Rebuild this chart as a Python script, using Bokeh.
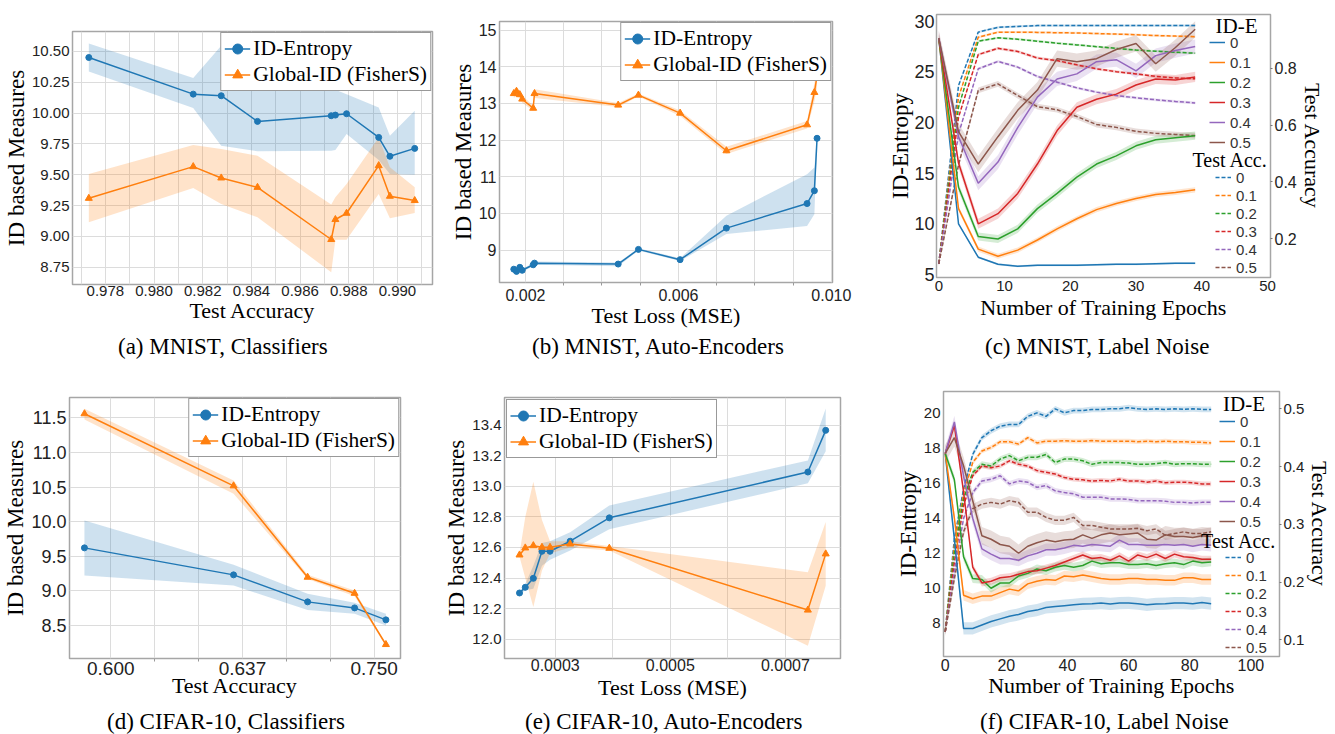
from bokeh.plotting import figure
from bokeh.models import (Range1d, LinearAxis, FixedTicker, SingleIntervalTicker, Legend,
                          LegendItem, Label, NumeralTickFormatter, Div)
from bokeh.layouts import column, row
from bokeh.embed import file_html
from bokeh.resources import INLINE

# ---------------- data ----------------
# (a) MNIST, Classifiers
a_acc = [0.97732, 0.98161, 0.98276, 0.98425, 0.98728, 0.98745, 0.98791, 0.98923, 0.98969, 0.99071]
a_ide = [10.451, 10.154, 10.141, 9.933, 9.979, 9.984, 9.995, 9.803, 9.650, 9.714]
a_ide_lo = [10.338, 10.041, 9.736, 9.69, 9.695, 9.70, 9.83, 9.62, 9.506, 9.50]
a_ide_hi = [10.565, 10.284, 10.546, 10.187, 10.20, 10.19, 10.154, 10.046, 9.817, 10.02]
a_gid = [9.309, 9.566, 9.474, 9.398, 8.975, 9.137, 9.188, 9.574, 9.326, 9.291]
a_gid_lo = [9.115, 9.393, 9.263, 9.155, 8.71, 8.972, 8.972, 9.344, 9.147, 9.19]
a_gid_hi = [9.506, 9.741, 9.709, 9.655, 9.258, 9.317, 9.425, 9.803, 9.56, 9.398]

# (b) MNIST, Auto-Encoders
b_mse = [0.001694, 0.001765, 0.001851, 0.001914, 0.002201, 0.002235, 0.004424, 0.004954,
         0.006044, 0.007255, 0.009365, 0.009556, 0.009626]
b_ide = [8.48, 8.42, 8.53, 8.45, 8.60, 8.645, 8.62, 9.02, 8.74, 9.60, 10.27, 10.62, 12.05]
b_ide_lo = [8.44, 8.38, 8.49, 8.41, 8.56, 8.60, 8.56, 8.99, 8.70, 9.44, 9.66, 9.98, 11.95]
b_ide_hi = [8.52, 8.46, 8.57, 8.49, 8.64, 8.69, 8.66, 9.05, 8.78, 9.94, 11.07, 11.25, 12.15]
b_gid = [13.27, 13.33, 13.24, 13.12, 12.87, 13.27, 12.955, 13.227, 12.736, 11.71, 12.418, 13.3, 13.75]
b_gid_lo = [13.15, 13.21, 13.14, 13.02, 12.80, 13.15, 12.90, 13.19, 12.66, 11.62, 12.32, 13.05, 13.45]
b_gid_hi = [13.39, 13.45, 13.34, 13.22, 12.94, 13.39, 13.01, 13.27, 12.81, 11.82, 12.52, 13.55, 14.05]

# (c) MNIST, Label Noise
c_epochs = [0, 3, 6, 9, 12, 15, 18, 21, 24, 27, 30, 33, 36, 39]
c_ide_n0 = [28.3, 10.0, 6.7, 6.0, 5.8, 5.9, 5.9, 5.9, 5.95, 6.0, 6.0, 6.05, 6.1, 6.1]
c_ide_n1 = [28.3, 11.5, 7.5, 6.8, 7.4, 8.4, 9.5, 10.5, 11.4, 12.0, 12.5, 12.9, 13.1, 13.35]
c_ide_n2 = [28.3, 13.6, 8.75, 8.5, 9.5, 11.5, 13.0, 14.6, 15.9, 16.7, 17.7, 18.3, 18.5, 18.7]
c_ide_n3 = [28.3, 16.0, 10.0, 11.0, 13.0, 15.9, 19.2, 21.5, 22.3, 22.8, 23.7, 24.3, 24.2, 24.5]
c_ide_n4 = [28.3, 18.6, 14.0, 16.1, 19.5, 22.5, 24.3, 24.8, 26.0, 26.2, 25.1, 26.6, 27.1, 27.5]
c_ide_n5 = [28.3, 19.1, 15.9, 18.6, 21.2, 23.2, 26.3, 26.0, 26.3, 27.2, 27.8, 25.8, 27.4, 29.2]
c_ide_band = [0.1, 0.25, 0.4, 0.5, 0.7, 0.8]
c_acc_n0 = [0.112, 0.739, 0.927, 0.944, 0.947, 0.950, 0.950, 0.950, 0.950, 0.950, 0.950, 0.950, 0.950, 0.950]
c_acc_n1 = [0.112, 0.698, 0.909, 0.927, 0.927, 0.926, 0.925, 0.924, 0.922, 0.920, 0.918, 0.915, 0.913, 0.911]
c_acc_n2 = [0.112, 0.663, 0.895, 0.907, 0.902, 0.895, 0.888, 0.882, 0.876, 0.870, 0.864, 0.860, 0.856, 0.853]
c_acc_n3 = [0.112, 0.628, 0.848, 0.870, 0.859, 0.836, 0.827, 0.812, 0.798, 0.788, 0.780, 0.771, 0.766, 0.763]
c_acc_n4 = [0.112, 0.569, 0.798, 0.824, 0.804, 0.771, 0.751, 0.731, 0.716, 0.704, 0.696, 0.689, 0.683, 0.678]
c_acc_n5 = [0.112, 0.460, 0.722, 0.745, 0.704, 0.665, 0.654, 0.630, 0.602, 0.592, 0.578, 0.571, 0.567, 0.563]
c_acc_band = [0.004, 0.004, 0.004, 0.005, 0.005, 0.01]

# (d) CIFAR-10, Classifiers
d_acc = [0.5926, 0.6345, 0.6553, 0.6685, 0.6773]
d_ide = [9.621, 9.231, 8.841, 8.754, 8.581]
d_ide_lo = [9.222, 9.077, 8.725, 8.668, 8.50]
d_ide_hi = [10.016, 9.376, 8.957, 8.827, 8.668]
d_gid = [11.558, 10.517, 9.197, 8.965, 8.225]
d_gid_lo = [11.476, 10.402, 9.173, 8.923, 8.20]
d_gid_hi = [11.63, 10.594, 9.231, 9.005, 8.234]
d_tick_labels = ["0.600", "0.637", "0.750"]

# (e) CIFAR-10, Auto-Encoders
e_mse = [0.000238, 0.000248, 0.000262, 0.000277, 0.000291, 0.000326, 0.000394, 0.000739, 0.000770]
e_ide = [12.302, 12.339, 12.398, 12.575, 12.575, 12.641, 12.794, 13.094, 13.367]
e_ide_lo = [12.29, 12.32, 12.33, 12.48, 12.52, 12.58, 12.72, 13.02, 13.23]
e_ide_hi = [12.31, 12.36, 12.48, 12.63, 12.64, 12.70, 12.875, 13.17, 13.51]
e_gid = [12.551, 12.597, 12.612, 12.601, 12.601, 12.623, 12.595, 12.190, 12.558]
e_gid_lo = [12.54, 12.40, 12.21, 12.45, 12.56, 12.60, 12.58, 11.956, 12.35]
e_gid_hi = [12.56, 12.80, 13.03, 12.78, 12.64, 12.64, 12.61, 12.437, 12.766]

# (f) CIFAR-10, Label Noise
f_epochs = [0, 3, 6, 9, 12, 15, 18, 21, 24, 27, 30, 33, 36, 39, 42, 45, 48, 51, 54, 57,
            60, 63, 66, 69, 72, 75, 78, 81, 84, 87]
f_ide_n0 = [17.7, 12.8, 7.7, 7.7, 7.9, 8.1, 8.25, 8.4, 8.5, 8.67, 8.75, 8.9, 8.95, 9.0, 9.05,
            9.1, 9.12, 9.15, 9.1, 9.15, 9.16, 9.12, 9.05, 9.1, 9.12, 9.15, 9.15, 9.12, 9.18, 9.12]
f_ide_n1 = [17.7, 14.0, 9.6, 9.4, 9.55, 9.55, 9.75, 9.95, 9.85, 10.25, 10.4, 10.5, 10.45, 10.7, 10.65,
            10.75, 10.65, 10.55, 10.5, 10.5, 10.55, 10.55, 10.5, 10.5, 10.45, 10.45, 10.6, 10.6, 10.5, 10.5]
f_ide_n2 = [17.7, 16.2, 11.8, 10.55, 10.5, 10.0, 10.3, 10.3, 10.7, 10.85, 11.1, 11.0, 11.2, 11.3, 11.2,
            11.3, 11.55, 11.4, 11.45, 11.45, 11.35, 11.35, 11.4, 11.3, 11.4, 11.45, 11.35, 11.55, 11.45, 11.5]
f_ide_n3 = [17.7, 19.3, 15.5, 11.2, 10.3, 10.4, 10.6, 10.65, 10.8, 10.95, 11.0, 11.15, 11.3, 11.5, 11.7,
            11.9, 11.7, 11.75, 11.6, 11.85, 11.55, 11.9, 11.75, 11.95, 11.7, 11.95, 11.8, 11.75, 11.65, 11.65]
f_ide_n4 = [17.7, 19.5, 16.4, 14.0, 12.25, 11.95, 11.7, 11.7, 11.6, 11.85, 12.0, 12.2, 12.2, 12.3, 12.45,
            12.4, 12.5, 12.45, 12.4, 12.75, 12.5, 12.5, 12.45, 12.45, 12.5, 12.45, 12.5, 12.4, 12.5, 12.45]
f_ide_n5 = [17.7, 18.6, 17.0, 15.0, 13.0, 12.8, 12.5, 12.4, 12.0, 12.4, 12.6, 12.75, 12.65, 12.75, 12.8,
            13.05, 12.85, 13.05, 13.15, 13.05, 13.1, 13.15, 12.8, 12.75, 13.05, 12.95, 12.95, 12.9, 13.0, 12.95]
f_ide_band = [0.35, 0.3, 0.25, 0.2, 0.35, 0.5]
f_acc_n0 = [0.114, 0.275, 0.361, 0.421, 0.450, 0.462, 0.470, 0.473, 0.473, 0.487, 0.493, 0.487, 0.500, 0.493, 0.497,
            0.497, 0.499, 0.499, 0.500, 0.500, 0.502, 0.500, 0.499, 0.500, 0.499, 0.500, 0.499, 0.500, 0.499, 0.499]
f_acc_n1 = [0.114, 0.264, 0.353, 0.407, 0.427, 0.433, 0.443, 0.443, 0.439, 0.450, 0.441, 0.444, 0.444, 0.445, 0.444,
            0.444, 0.445, 0.444, 0.444, 0.444, 0.444, 0.443, 0.444, 0.443, 0.444, 0.443, 0.443, 0.442, 0.442, 0.441]
f_acc_n2 = [0.114, 0.252, 0.344, 0.390, 0.404, 0.401, 0.413, 0.419, 0.410, 0.416, 0.416, 0.421, 0.407, 0.413, 0.413,
            0.410, 0.404, 0.407, 0.407, 0.407, 0.406, 0.404, 0.404, 0.405, 0.407, 0.404, 0.405, 0.405, 0.404, 0.404]
f_acc_n3 = [0.114, 0.235, 0.332, 0.384, 0.401, 0.398, 0.401, 0.410, 0.404, 0.401, 0.393, 0.390, 0.387, 0.381, 0.378,
            0.377, 0.375, 0.376, 0.375, 0.378, 0.375, 0.375, 0.373, 0.375, 0.372, 0.373, 0.373, 0.372, 0.370, 0.370]
f_acc_n4 = [0.114, 0.218, 0.310, 0.355, 0.375, 0.378, 0.384, 0.370, 0.375, 0.373, 0.364, 0.367, 0.358, 0.355, 0.353,
            0.347, 0.347, 0.347, 0.344, 0.344, 0.343, 0.341, 0.341, 0.341, 0.340, 0.338, 0.338, 0.337, 0.338, 0.338]
f_acc_n5 = [0.114, 0.206, 0.287, 0.327, 0.335, 0.338, 0.335, 0.341, 0.338, 0.321, 0.321, 0.312, 0.307, 0.307, 0.312,
            0.298, 0.298, 0.295, 0.292, 0.292, 0.292, 0.293, 0.289, 0.292, 0.281, 0.284, 0.287, 0.284, 0.284, 0.287]
f_acc_band = [0.005, 0.004, 0.005, 0.004, 0.005, 0.008]

noise_labels = ["0", "0.1", "0.2", "0.3", "0.4", "0.5"]
series_labels = ["ID-Entropy", "Global-ID (FisherS)"]
captions = ["(a) MNIST, Classifiers", "(b) MNIST, Auto-Encoders", "(c) MNIST, Label Noise",
            "(d) CIFAR-10, Classifiers", "(e) CIFAR-10, Auto-Encoders", "(f) CIFAR-10, Label Noise"]

# ---------------- style ----------------
SERIF = "'Liberation Serif'"
SANS = "'Liberation Sans'"
BLUE, ORANGE = "#1f77b4", "#ff7f0e"
TAB = ["#1f77b4", "#ff7f0e", "#2ca02c", "#d62728", "#9467bd", "#8c564b"]
GRID = "#dcdcdc"


def style_axis(ax, tick_size, standoff=3, label_size="22px", label_standoff=0):
    ax.axis_line_color = None
    ax.major_tick_line_color = None
    ax.minor_tick_line_color = None
    ax.major_tick_out = 0
    ax.minor_tick_out = 0
    ax.major_label_text_font = SANS
    ax.major_label_text_font_size = tick_size
    ax.major_label_text_color = "#222222"
    ax.major_label_standoff = standoff
    ax.axis_label_text_font = SERIF
    ax.axis_label_text_font_style = "normal"
    ax.axis_label_text_font_size = label_size
    ax.axis_label_text_color = "black"
    ax.axis_label_standoff = label_standoff


def make_fig(w, h, borders, xr, yr):
    left, right, top, bottom = borders
    p = figure(width=w, height=h, x_range=Range1d(*xr), y_range=Range1d(*yr),
               output_backend="svg", toolbar_location=None, frame_align=False,
               min_border_left=left, min_border_right=right,
               min_border_top=top, min_border_bottom=bottom)
    p.outline_line_color = "#a6a6a6"
    p.outline_line_width = 1.5
    p.background_fill_color = "white"
    p.border_fill_color = "white"
    p.grid.grid_line_color = GRID
    p.grid.grid_line_width = 1
    return p


def caption_div(text, width, height, pad_left, pad_top):
    html = ('<div style="font-family:\'Liberation Serif\'; font-size:23px; line-height:24px; '
            'color:black; white-space:nowrap; padding-left:%dpx; padding-top:%dpx;">%s</div>'
            % (pad_left, pad_top, text))
    return Div(text=html, width=width, height=height, margin=0)


def compare(p, x, ide, ide_lo, ide_hi, gid, gid_lo, gid_hi, loc, margin):
    p.varea(x=x, y1=ide_lo, y2=ide_hi, fill_color=BLUE, fill_alpha=0.22)
    p.varea(x=x, y1=gid_lo, y2=gid_hi, fill_color=ORANGE, fill_alpha=0.22)
    l1 = p.line(x, ide, line_color=BLUE, line_width=1.5)
    s1 = p.scatter(x, ide, marker="circle", size=6, color=BLUE)
    l2 = p.line(x, gid, line_color=ORANGE, line_width=1.5)
    s2 = p.scatter(x, gid, marker="triangle", size=7, color=ORANGE)
    leg = Legend(items=[LegendItem(label=series_labels[0], renderers=[l1, s1]),
                        LegendItem(label=series_labels[1], renderers=[l2, s2])],
                 location=loc, margin=margin, padding=3, spacing=1,
                 glyph_width=26, glyph_height=25, label_height=25, label_standoff=3,
                 label_text_font=SERIF, label_text_font_size="21.5px", label_text_color="black",
                 border_line_color="#333333", border_line_width=1.5,
                 background_fill_color="white", background_fill_alpha=1.0)
    p.add_layout(leg)


# ---------------- (a) ----------------
pa = make_fig(440, 335, (67, 8, 31, 51), (0.97665, 0.99144), (8.61, 10.662))
pa.xaxis.ticker = FixedTicker(ticks=[0.978, 0.980, 0.982, 0.984, 0.986, 0.988, 0.990],
                              minor_ticks=[0.977, 0.979, 0.981, 0.983, 0.985, 0.987, 0.989, 0.991])
pa.xaxis.formatter = NumeralTickFormatter(format="0.000")
pa.yaxis.ticker = SingleIntervalTicker(interval=0.25)
pa.yaxis.formatter = NumeralTickFormatter(format="0.00")
pa.xgrid.minor_grid_line_color = GRID
for ax in pa.xaxis:
    style_axis(ax, "15px", 1, "22px", -1)
for ax in pa.yaxis:
    style_axis(ax, "15px", 3, "23px")
pa.xaxis.axis_label = "Test Accuracy"
pa.yaxis.axis_label = "ID based Measures"
compare(pa, a_acc, a_ide, a_ide_lo, a_ide_hi, a_gid, a_gid_lo, a_gid_hi, "top_right", 1)

# ---------------- (b) ----------------
pb = make_fig(445, 335, (59, 53, 21, 53), (0.00132, 0.01003), (8.117, 15.235))
pb.xaxis.ticker = FixedTicker(ticks=[0.002, 0.006, 0.010],
                              minor_ticks=[0.003, 0.004, 0.005, 0.007, 0.008, 0.009])
pb.xaxis.formatter = NumeralTickFormatter(format="0.000")
pb.yaxis.ticker = SingleIntervalTicker(interval=1)
pb.xgrid.minor_grid_line_color = GRID
for ax in pb.xaxis:
    style_axis(ax, "16px", 3, "22px", -1)
for ax in pb.yaxis:
    style_axis(ax, "16px", 3, "23px")
pb.xaxis.minor_tick_line_color = "#999999"
pb.xaxis.minor_tick_out = 3
pb.xaxis.minor_tick_in = 0
pb.xaxis.axis_label = "Test Loss (MSE)"
pb.yaxis.axis_label = "ID based Measures"
compare(pb, b_mse, b_ide, b_ide_lo, b_ide_hi, b_gid, b_gid_lo, b_gid_hi, "top_right", 1)


# ---------------- noise panels ----------------
def noise(p, epochs, ide, ide_band, acc, acc_band, acc_range, acc_ticker,
          solid_loc, dash_loc, solid_h, dash_h, titles):
    p.extra_y_ranges = {"acc": Range1d(*acc_range)}
    p.grid.grid_line_color = None
    solid, dashed = [], []
    for k in range(6):
        lo = [v - ide_band[k] for v in ide[k]]
        hi = [v + ide_band[k] for v in ide[k]]
        p.varea(x=epochs, y1=lo, y2=hi, fill_color=TAB[k], fill_alpha=0.2)
        alo = [v - acc_band[k] for v in acc[k]]
        ahi = [v + acc_band[k] for v in acc[k]]
        p.varea(x=epochs, y1=alo, y2=ahi, fill_color=TAB[k], fill_alpha=0.2, y_range_name="acc")
    for k in range(6):
        dashed.append(p.line(epochs, acc[k], line_color=TAB[k], line_width=1.5,
                             line_dash="4 2", y_range_name="acc"))
    for k in range(6):
        solid.append(p.line(epochs, ide[k], line_color=TAB[k], line_width=1.5))
    rax = LinearAxis(y_range_name="acc", axis_label="Test Accuracy", ticker=acc_ticker,
                     formatter=NumeralTickFormatter(format="0.0"))
    p.add_layout(rax, "right")
    common = dict(padding=0, spacing=0, margin=0, glyph_width=16, label_standoff=5,
                  background_fill_alpha=0, border_line_color=None,
                  label_text_font=SANS, label_text_font_size="15px", label_text_color="#333333")
    leg1 = Legend(items=[LegendItem(label=noise_labels[k], renderers=[solid[k]]) for k in range(6)],
                  location=solid_loc, glyph_height=solid_h, label_height=solid_h, **common)
    leg2 = Legend(items=[LegendItem(label=noise_labels[k], renderers=[dashed[k]]) for k in range(6)],
                  location=dash_loc, glyph_height=dash_h, label_height=dash_h, **common)
    p.add_layout(leg1)
    p.add_layout(leg2)
    for (tx, ty, txt, fs) in titles:
        p.add_layout(Label(x=tx, y=ty, text=txt, text_font=SERIF, text_font_size=fs,
                           text_baseline="middle", text_align="left", text_color="black"))
    return rax


# ---------------- (c) ----------------
pc = make_fig(450, 335, (51, 65, 14, 58), (-0.35, 50.46), (4.70, 30.66))
pc.xaxis.ticker = SingleIntervalTicker(interval=10)
pc.yaxis.ticker = SingleIntervalTicker(interval=5)
rc = noise(pc, c_epochs, [c_ide_n0, c_ide_n1, c_ide_n2, c_ide_n3, c_ide_n4, c_ide_n5], c_ide_band,
           [c_acc_n0, c_acc_n1, c_acc_n2, c_acc_n3, c_acc_n4, c_acc_n5], c_acc_band,
           (0.064, 0.989), FixedTicker(ticks=[0.2, 0.4, 0.6, 0.8]),
           (273, 125), (279, 1), 20, 18,
           [(42.1, 29.5, "ID-E", "21px"), (38.6, 16.25, "Test Acc.", "20px")])
for ax in pc.xaxis:
    style_axis(ax, "15px", 3, "22px", 1)
for ax in pc.yaxis:
    style_axis(ax, "18px", 2, "23px", -2)
style_axis(rc, "16px", 2, "22px")
rc.major_tick_line_color = "#777777"
rc.major_tick_out = 2
rc.major_tick_in = 0
pc.xaxis.axis_label = "Number of Training Epochs"
pc.left[0].axis_label = "ID-Entropy"

# ---------------- (d) ----------------
pd_ = make_fig(440, 342, (65, 40, 32, 49), (0.5884, 0.6814), (8.023, 11.793))
d_ticks = [0.600, 0.637, 0.674]
pd_.xaxis.ticker = FixedTicker(ticks=d_ticks, minor_ticks=[0.612333, 0.624667, 0.649333, 0.661667])
pd_.xaxis.major_label_overrides = {t: lab for t, lab in zip(d_ticks, d_tick_labels)}
pd_.yaxis.ticker = SingleIntervalTicker(interval=0.5)
pd_.yaxis.formatter = NumeralTickFormatter(format="0.0")
pd_.xgrid.minor_grid_line_color = GRID
for ax in pd_.xaxis:
    style_axis(ax, "19px", 0, "22px", -5)
for ax in pd_.yaxis:
    style_axis(ax, "18px", 3, "23px")
pd_.xaxis.minor_tick_line_color = "#999999"
pd_.xaxis.minor_tick_out = 3
pd_.xaxis.minor_tick_in = 0
pd_.xaxis.axis_label = "Test Accuracy"
pd_.yaxis.axis_label = "ID based Measures"
compare(pd_, d_acc, d_ide, d_ide_lo, d_ide_hi, d_gid, d_gid_lo, d_gid_hi, "top_right", 1)

# ---------------- (e) ----------------
pe = make_fig(445, 342, (64, 45, 32, 49), (0.0002119, 0.0007957), (11.873, 13.582))
pe.xaxis.ticker = FixedTicker(ticks=[0.0003, 0.0005, 0.0007], minor_ticks=[0.0002, 0.0004, 0.0006])
pe.xaxis.formatter = NumeralTickFormatter(format="0.0000")
pe.yaxis.ticker = SingleIntervalTicker(interval=0.2)
pe.yaxis.formatter = NumeralTickFormatter(format="0.0")
pe.xgrid.minor_grid_line_color = GRID
for ax in pe.xaxis:
    style_axis(ax, "16px", 0, "22px", 1)
for ax in pe.yaxis:
    style_axis(ax, "15px", 3, "23px")
pe.xaxis.axis_label = "Test Loss (MSE)"
pe.yaxis.axis_label = "ID based Measures"
compare(pe, e_mse, e_ide, e_ide_lo, e_ide_hi, e_gid, e_gid_lo, e_gid_hi, "top_left", 2)

# ---------------- (f) ----------------
pf = make_fig(450, 342, (58, 56, 26, 51), (-0.56, 109.36), (6.1, 21.24))
pf.xaxis.ticker = SingleIntervalTicker(interval=20)
pf.yaxis.ticker = SingleIntervalTicker(interval=2)
rf = noise(pf, f_epochs, [f_ide_n0, f_ide_n1, f_ide_n2, f_ide_n3, f_ide_n4, f_ide_n5], f_ide_band,
           [f_acc_n0, f_acc_n1, f_acc_n2, f_acc_n3, f_acc_n4, f_acc_n5], f_acc_band,
           (0.0711, 0.53), SingleIntervalTicker(interval=0.1),
           (276, 125), (282, 0), 20, 18,
           [(90.9, 20.55, "ID-E", "21px"), (83.7, 12.69, "Test Acc.", "20px")])
for ax in pf.xaxis:
    style_axis(ax, "16px", 2, "22px", -1)
for ax in pf.yaxis:
    style_axis(ax, "15px", 3, "23px")
style_axis(rf, "15px", 2, "22px")
rf.major_tick_line_color = "#777777"
rf.major_tick_out = 2
rf.major_tick_in = 0
pf.xaxis.axis_label = "Number of Training Epochs"
pf.left[0].axis_label = "ID-Entropy"

# ---------------- captions ----------------
cap_row1 = row(caption_div(captions[0], 440, 30, 118, 0),
               caption_div(captions[1], 445, 30, 92, 0),
               caption_div(captions[2], 450, 30, 100, 0))
cap_row2 = row(caption_div(captions[3], 440, 27, 107, 3),
               caption_div(captions[4], 445, 27, 85, 3),
               caption_div(captions[5], 450, 27, 95, 3))

layout = column(row(pa, pb, pc), cap_row1, row(pd_, pe, pf), cap_row2)
open("out.html", "w").write(file_html(layout, INLINE))
